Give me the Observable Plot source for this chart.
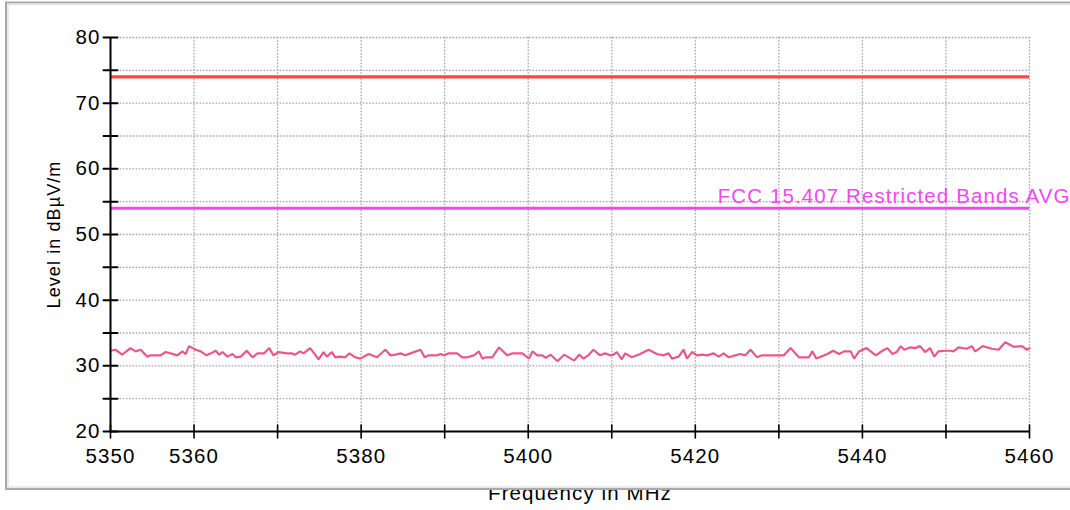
<!DOCTYPE html>
<html>
<head>
<meta charset="utf-8">
<script src="https://cdn.jsdelivr.net/npm/d3@7"></script>
<script src="https://cdn.jsdelivr.net/npm/@observablehq/plot@0.6"></script>
<style>
  html, body { margin: 0; padding: 0; background: #ffffff; }
  #chart svg text { letter-spacing: 1.1px; }
</style>
</head>
<body>
<div id="chart"></div>
<script>
// Measured emission trace (frequency in MHz, level in dBµV/m)
const freqMHz = [
  5350.0, 5350.6, 5351.4, 5352.4, 5353.0, 5353.6, 5354.4, 5354.8, 5356.0, 5356.6,
  5357.2, 5358.0, 5358.6, 5359.0, 5359.4, 5360.2, 5360.8, 5361.5, 5362.0, 5362.6,
  5363.0, 5363.4, 5364.0, 5364.6, 5365.0, 5365.6, 5366.3, 5367.0, 5367.6, 5368.4,
  5369.0, 5369.5, 5370.1, 5371.1, 5371.7, 5372.1, 5372.7, 5373.1, 5373.9, 5374.5,
  5374.9, 5375.5, 5375.9, 5376.5, 5376.9, 5377.5, 5378.1, 5378.6, 5379.3, 5379.9,
  5380.9, 5381.9, 5382.9, 5383.5, 5384.1, 5384.7, 5385.3, 5385.9, 5387.1, 5387.6,
  5388.1, 5389.1, 5389.5, 5389.9, 5390.5, 5391.5, 5392.1, 5392.7, 5393.5, 5394.1,
  5394.5, 5394.9, 5395.7, 5396.5, 5397.5, 5398.1, 5399.3, 5400.1, 5400.5, 5401.1,
  5401.7, 5402.1, 5402.7, 5403.5, 5404.3, 5405.5, 5406.1, 5406.6, 5407.2, 5407.8,
  5408.6, 5409.2, 5409.8, 5410.2, 5410.6, 5411.2, 5411.6, 5412.4, 5413.4, 5414.4,
  5415.4, 5416.2, 5416.8, 5417.2, 5418.0, 5418.6, 5419.0, 5419.6, 5420.2, 5420.8,
  5421.4, 5422.2, 5422.8, 5423.4, 5424.0, 5424.8, 5425.4, 5426.0, 5426.6, 5427.4,
  5428.0, 5430.6, 5431.4, 5432.4, 5433.6, 5434.0, 5434.5, 5435.8, 5436.5, 5437.2,
  5437.8, 5438.6, 5439.0, 5439.6, 5440.5, 5441.6, 5442.4, 5443.0, 5443.6, 5444.1,
  5444.6, 5445.0, 5445.7, 5446.3, 5446.9, 5447.5, 5448.1, 5448.6, 5449.1, 5449.9,
  5450.5, 5450.9, 5451.5, 5452.5, 5453.1, 5453.5, 5454.4, 5455.5, 5456.3, 5457.1,
  5458.1, 5459.1, 5459.7, 5460.0
];
const levelDb = [
  32.3, 32.45, 31.7, 32.7, 32.2, 32.45, 31.4, 31.6, 31.6, 32.1,
  31.9, 31.6, 32.2, 31.8, 33.0, 32.45, 32.2, 31.6, 31.9, 32.3,
  31.7, 32.1, 31.4, 31.8, 31.3, 31.4, 32.3, 31.3, 31.9, 31.9,
  32.7, 31.6, 32.1, 31.9, 31.9, 31.7, 32.2, 31.9, 32.7, 31.7,
  31.0, 32.1, 31.4, 32.1, 31.3, 31.4, 31.3, 31.9, 31.3, 31.1,
  31.8, 31.3, 32.45, 31.6, 31.7, 31.9, 31.6, 31.9, 32.45, 31.3,
  31.6, 31.6, 31.8, 31.6, 31.9, 31.9, 31.3, 31.3, 31.6, 32.2,
  31.1, 31.3, 31.3, 32.8, 31.6, 31.9, 31.9, 31.1, 32.2, 31.6,
  31.6, 31.2, 31.7, 30.7, 31.7, 30.8, 31.7, 31.1, 31.6, 32.45,
  31.6, 31.9, 31.6, 31.7, 32.1, 31.0, 31.9, 31.3, 31.8, 32.45,
  31.8, 31.6, 31.9, 31.1, 31.4, 32.45, 31.1, 32.1, 31.6, 31.7,
  31.6, 31.9, 31.4, 31.9, 31.3, 31.6, 31.8, 31.6, 32.45, 31.3,
  31.6, 31.6, 32.7, 31.3, 31.3, 32.2, 31.1, 31.8, 32.3, 31.8,
  32.2, 32.2, 31.1, 32.2, 32.7, 31.6, 32.3, 32.7, 31.8, 32.1,
  33.0, 32.45, 32.8, 32.7, 33.0, 32.1, 32.7, 31.4, 32.2, 32.3,
  32.3, 32.2, 32.8, 32.6, 33.0, 32.2, 33.0, 32.6, 32.45, 33.6,
  32.9, 33.0, 32.45, 32.7
];

// Limit lines
const peakLimit = 74;
const avgLimit = 54;
const avgLimitLabel = "FCC 15.407 Restricted Bands AVG";

// Axis ticks and labels
const xLabelTicks = [5350, 5360, 5380, 5400, 5420, 5440, 5460];
const xTicks = [5350, 5360, 5370, 5380, 5390, 5400, 5410, 5420, 5430, 5440, 5450, 5460];
const xGrid = [5360, 5370, 5380, 5390, 5400, 5410, 5420, 5430, 5440, 5450, 5460];
const yLabelTicks = [20, 30, 40, 50, 60, 70, 80];
const yTicks = [20, 25, 30, 35, 40, 45, 50, 55, 60, 65, 70, 75, 80];
const yGrid = [25, 30, 35, 40, 45, 50, 55, 60, 65, 70, 75, 80];
const xTitle = "Frequency in MHz";
const yTitle = "Level in dBµV/m";

const trace = freqMHz.map((f, i) => ({freq: f, level: levelDb[i]}));

// Straight tick stroke for vector marks (crosses the axis line)
const stick = {draw(context, l) { context.moveTo(0, 0); context.lineTo(0, -l); }};

// White panel with a grey border behind the chart
function panel(index, scales, values, dims) {
  const g = d3.create("svg:g");
  g.append("rect")
    .attr("x", 6).attr("y", 2.5)
    .attr("width", dims.width + 10).attr("height", 486.5)
    .attr("fill", "#ffffff").attr("stroke", "#a9a9a9").attr("stroke-width", 2);
  g.append("rect")
    .attr("x", 8).attr("y", 4.5)
    .attr("width", dims.width + 10).attr("height", 482.5)
    .attr("fill", "none").attr("stroke", "#e4e4e4").attr("stroke-width", 1.5);
  return g.node();
}

const chart = Plot.plot({
  width: 1070,
  height: 510,
  marginLeft: 110,
  marginRight: 41,
  marginTop: 37,
  marginBottom: 79,
  style: {fontFamily: "'Liberation Sans', Arial, sans-serif", fontSize: "20.5px", color: "#000"},
  x: {domain: [5350, 5460], axis: null},
  y: {domain: [20, 80], axis: null},
  marks: [
    // x-axis title sits partly under the panel border
    Plot.text([xTitle], {frameAnchor: "bottom", dx: 10, dy: 61.5, fontSize: 20.5, fill: "#000", textAnchor: "middle", lineAnchor: "middle"}),
    panel,
    Plot.gridY(yGrid, {stroke: "#a6a6a6", strokeOpacity: 1, strokeWidth: 1.3, strokeDasharray: "1.6,1.6"}),
    Plot.gridX(xGrid, {stroke: "#a6a6a6", strokeOpacity: 1, strokeWidth: 1.3, strokeDasharray: "1.6,1.6"}),
    Plot.ruleY([peakLimit], {stroke: "#ff4545", strokeWidth: 3.2}),
    Plot.ruleY([avgLimit], {stroke: "#f048f0", strokeWidth: 3.2}),
    Plot.text([avgLimitLabel], {x: 5460, y: avgLimit, dx: 41, dy: -12, textAnchor: "end", lineAnchor: "middle", fill: "#f048f0", fontSize: 20.5}),
    Plot.line(trace, {x: "freq", y: "level", stroke: "#e8588b", strokeWidth: 2.2, strokeLinejoin: "miter"}),
    // axis lines
    Plot.ruleX([5350], {y1: 20, y2: 80, stroke: "#000", strokeWidth: 2}),
    Plot.ruleY([20], {x1: 5350, x2: 5460, stroke: "#000", strokeWidth: 2}),
    // cross ticks
    Plot.vector(yTicks, {x: 5350, y: d => d, length: 14, rotate: 90, anchor: "middle", shape: stick, stroke: "#000", strokeWidth: 2}),
    Plot.vector(xTicks, {x: d => d, y: 20, length: 13, rotate: 0, anchor: "middle", shape: stick, stroke: "#000", strokeWidth: 1.6}),
    // tick labels
    Plot.axisY(yLabelTicks, {tickSize: 0, tickPadding: 10, label: null, fontSize: 20.5}),
    Plot.axisX(xLabelTicks, {tickSize: 0, tickPadding: 17, label: null, fontSize: 20.5, tickFormat: d => String(d)}),
    // y-axis title
    Plot.text([yTitle], {frameAnchor: "left", dx: -56, rotate: -90, textAnchor: "middle", lineAnchor: "middle", fontSize: 18, fill: "#000"})
  ]
});

document.getElementById("chart").appendChild(chart);
</script>
</body>
</html>
